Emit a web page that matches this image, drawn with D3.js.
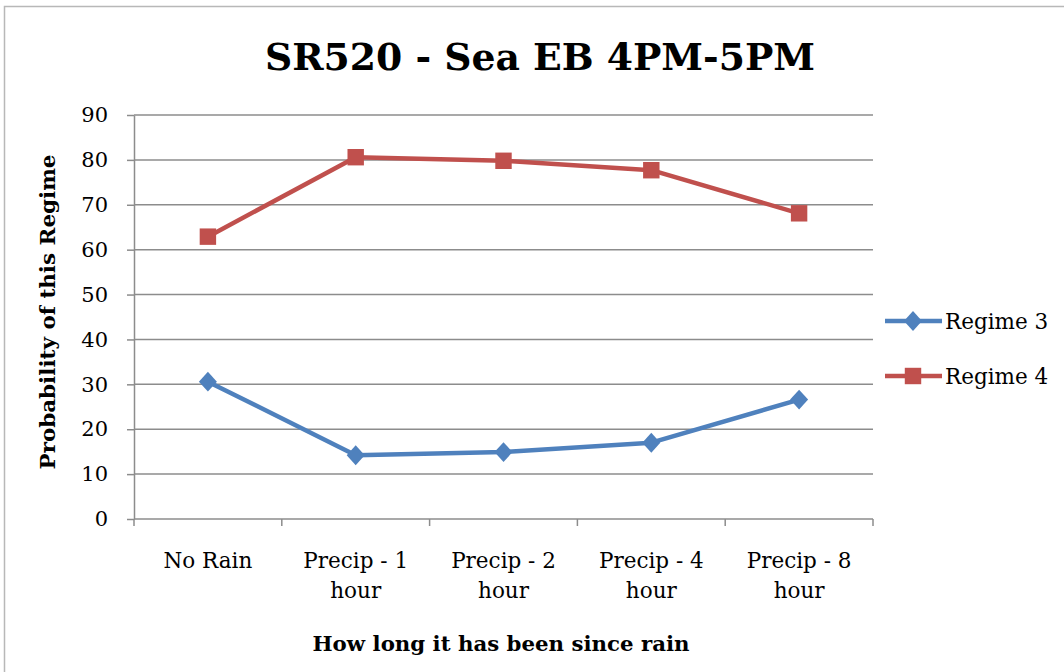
<!DOCTYPE html>
<html>
<head>
<meta charset="utf-8">
<script src="https://cdn.jsdelivr.net/npm/d3@7"></script>
<style>
  body { margin: 0; background: #fff; }
  text { font-family: "DejaVu Serif", "Liberation Serif", serif; fill: #000; }
</style>
</head>
<body>
<svg id="chart" width="1064" height="672"></svg>
<script>
// data
var categories = ["No Rain", "Precip - 1 hour", "Precip - 2 hour", "Precip - 4 hour", "Precip - 8 hour"];
var categoryLines = [["No Rain"], ["Precip - 1", "hour"], ["Precip - 2", "hour"], ["Precip - 4", "hour"], ["Precip - 8", "hour"]];
var regime3 = [30.6, 14.2, 14.9, 17.0, 26.6];
var regime4 = [62.9, 80.6, 79.8, 77.7, 68.1];
var yTicks = [0, 10, 20, 30, 40, 50, 60, 70, 80, 90];
var seriesNames = ["Regime 3", "Regime 4"];

var svg = d3.select("#chart");
var margin = {top: 115, left: 134, right: 1064 - 873, bottom: 672 - 519};
var width = 1064 - margin.left - margin.right,
    height = 672 - margin.top - margin.bottom;

// outer chart border
svg.append("rect")
  .attr("x", 4.5).attr("y", 6.5)
  .attr("width", 1070).attr("height", 700)
  .attr("fill", "none").attr("stroke", "#b8b8b8").attr("stroke-width", 1.5);

var g = svg.append("g").attr("transform", "translate(" + margin.left + "," + margin.top + ")");

var x = d3.scaleBand().domain(categories).range([0, width]);
var y = d3.scaleLinear().domain([0, 90]).range([height, 0]);

// a diamond a little wider than d3's own
var diamond = {
  draw: function(context, size) {
    var h = Math.sqrt(size / 2) * 1.05, w = Math.sqrt(size / 2) * 0.95;
    context.moveTo(0, -h);
    context.lineTo(w, 0);
    context.lineTo(0, h);
    context.lineTo(-w, 0);
    context.closePath();
  }
};

/******** gridlines ********/
g.append("g").selectAll("line")
  .data(yTicks.filter(function(d) { return d > 0; }))
  .enter().append("line")
  .attr("x1", 0).attr("x2", width)
  .attr("y1", function(d) { return y(d); }).attr("y2", function(d) { return y(d); })
  .attr("stroke", "#8c8c8c").attr("stroke-width", 1.5);

/******** y axis ********/
var yAxis = g.append("g")
  .call(d3.axisLeft(y).tickValues(yTicks).tickSize(7).tickPadding(19).tickSizeOuter(0));
yAxis.select(".domain").attr("stroke", "#8c8c8c").attr("stroke-width", 1.5);
yAxis.selectAll(".tick line").attr("stroke", "#8c8c8c").attr("stroke-width", 1.5);
yAxis.selectAll(".tick text")
  .style("font-family", "'DejaVu Serif', serif")
  .style("font-size", "21px").attr("fill", "#000");

/******** x axis ********/
var xAxis = g.append("g").attr("transform", "translate(0," + height + ")");
xAxis.append("line").attr("x1", 0).attr("x2", width)
  .attr("stroke", "#8c8c8c").attr("stroke-width", 1.5);
xAxis.selectAll("line.tick")
  .data(d3.range(categories.length + 1))
  .enter().append("line").attr("class", "tick")
  .attr("x1", function(i) { return i * x.step(); })
  .attr("x2", function(i) { return i * x.step(); })
  .attr("y1", 0).attr("y2", 7)
  .attr("stroke", "#8c8c8c").attr("stroke-width", 1.5);

var xLabels = xAxis.selectAll("text.cat")
  .data(categories)
  .enter().append("text").attr("class", "cat")
  .attr("text-anchor", "middle")
  .style("font-size", "21.5px")
  .attr("transform", function(d) { return "translate(" + (x(d) + x.bandwidth() / 2) + ",49)"; });
xLabels.each(function(d, i) {
  var t = d3.select(this);
  categoryLines[i].forEach(function(line, j) {
    t.append("tspan").attr("x", 0).attr("y", j * 30).text(line);
  });
});

/******** lines and markers ********/
var line = d3.line()
  .x(function(d, i) { return x(categories[i]) + x.bandwidth() / 2; })
  .y(function(d) { return y(d); });

var series = [
  {name: seriesNames[0], values: regime3, color: "#4f81bd", symbol: diamond, size: 180},
  {name: seriesNames[1], values: regime4, color: "#c0504d", symbol: d3.symbolSquare, size: 270}
];

series.forEach(function(s) {
  g.append("path").datum(s.values)
    .attr("d", line)
    .attr("fill", "none").attr("stroke", s.color)
    .attr("stroke-width", 4.5).attr("stroke-linejoin", "round");
  g.selectAll(null).data(s.values).enter().append("path")
    .attr("d", d3.symbol().type(s.symbol).size(s.size))
    .attr("transform", function(d, i) {
      return "translate(" + (x(categories[i]) + x.bandwidth() / 2) + "," + y(d) + ")";
    })
    .attr("fill", s.color);
});

/******** legend ********/
var legend = svg.append("g").attr("transform", "translate(885,321)");
series.forEach(function(s, i) {
  var lg = legend.append("g").attr("transform", "translate(0," + (i * 55) + ")");
  lg.append("line").attr("x1", 0).attr("x2", 57)
    .attr("stroke", s.color).attr("stroke-width", 4.5);
  lg.append("path")
    .attr("d", d3.symbol().type(s.symbol).size(s.size))
    .attr("transform", "translate(28,0)")
    .attr("fill", s.color);
  lg.append("text").attr("x", 60).attr("dy", "0.35em")
    .style("font-size", "21.5px").text(s.name);
});

/******** titles ********/
svg.append("text")
  .attr("x", 540).attr("y", 70)
  .attr("text-anchor", "middle")
  .style("font-size", "37px").style("font-weight", "bold")
  .attr("textLength", 550).attr("lengthAdjust", "spacingAndGlyphs")
  .text("SR520 - Sea EB 4PM-5PM");

svg.append("text")
  .attr("transform", "translate(55,312) rotate(-90)")
  .attr("text-anchor", "middle")
  .style("font-size", "21px").style("font-weight", "bold")
  .attr("textLength", 315).attr("lengthAdjust", "spacingAndGlyphs")
  .text("Probability of this Regime");

svg.append("text")
  .attr("x", 501).attr("y", 651)
  .attr("text-anchor", "middle")
  .style("font-size", "21px").style("font-weight", "bold")
  .attr("textLength", 377).attr("lengthAdjust", "spacingAndGlyphs")
  .text("How long it has been since rain");
</script>
</body>
</html>
